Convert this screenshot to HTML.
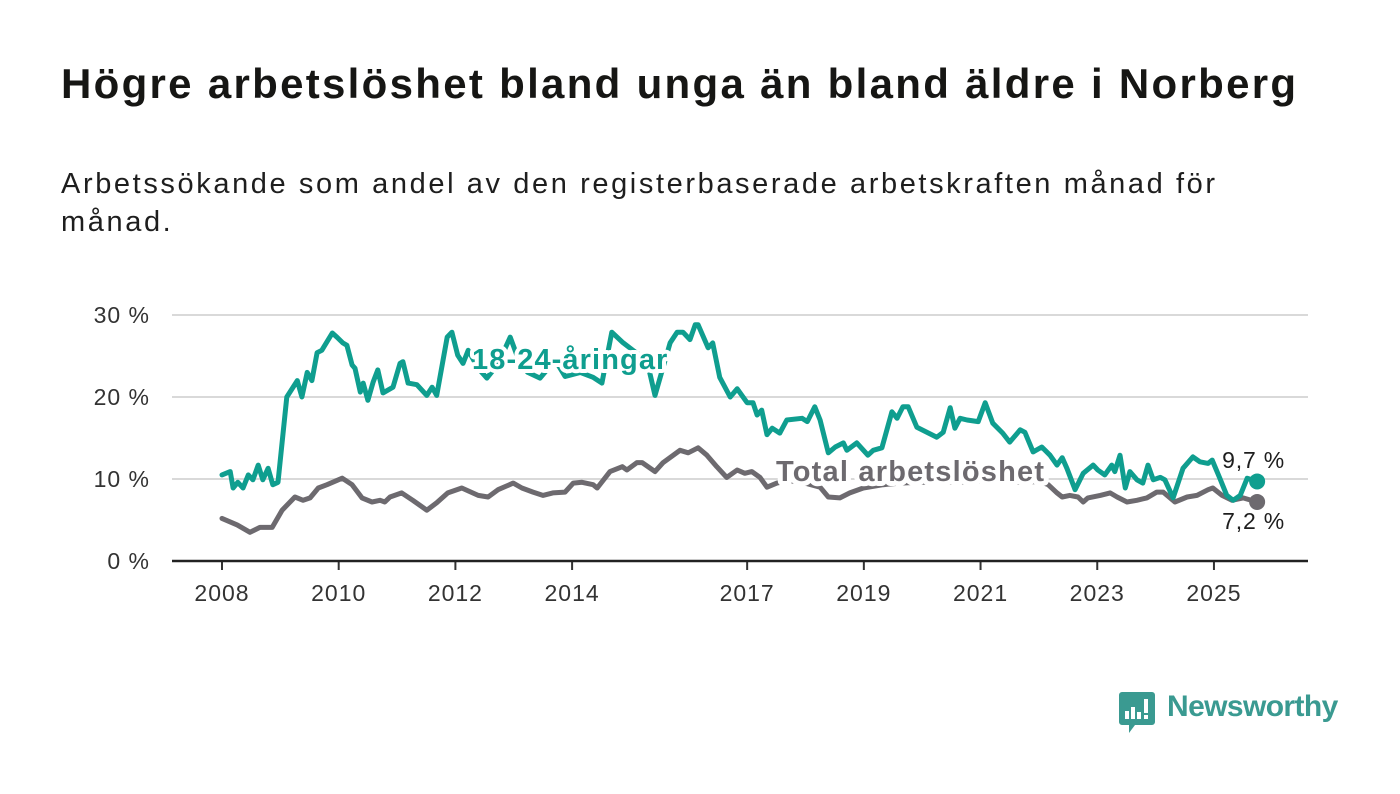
<!DOCTYPE html>
<html><head><meta charset="utf-8">
<style>
body{margin:0;background:#fff;width:1400px;height:794px;overflow:hidden;font-family:"Liberation Sans","DejaVu Sans",sans-serif;}
#title{position:absolute;left:61px;top:60px;font-size:42px;font-weight:bold;color:#161614;margin:0;letter-spacing:2.3px;white-space:nowrap}
#sub{position:absolute;left:61px;top:165px;font-size:29px;color:#1e1e1e;line-height:38px;width:1300px;margin:0;letter-spacing:2.6px}
svg{position:absolute;left:0;top:0}
</style></head><body>
<h1 id="title">Högre arbetslöshet bland unga än bland äldre i Norberg</h1>
<p id="sub">Arbetssökande som andel av den registerbaserade arbetskraften månad för<br>månad.</p>
<svg id="chart" width="1400" height="794"></svg>
<script>
const yTicks=[0,10,20,30];
const xTicks=[2008,2010,2012,2014,2017,2019,2021,2023,2025];
const youthDates=[2008.00,2008.14,2008.19,2008.27,2008.36,2008.45,2008.53,2008.62,2008.70,2008.79,2008.87,2008.96,2009.11,2009.29,2009.37,2009.46,2009.54,2009.63,2009.71,2009.89,2009.97,2010.07,2010.14,2010.23,2010.28,2010.37,2010.42,2010.50,2010.59,2010.67,2010.76,2010.93,2011.05,2011.10,2011.19,2011.34,2011.51,2011.60,2011.68,2011.86,2011.94,2012.04,2012.13,2012.22,2012.39,2012.54,2012.73,2012.94,2013.11,2013.24,2013.45,2013.71,2013.88,2014.14,2014.36,2014.51,2014.68,2014.86,2015.08,2015.28,2015.42,2015.68,2015.80,2015.90,2016.02,2016.11,2016.16,2016.33,2016.41,2016.53,2016.71,2016.83,2017.00,2017.10,2017.17,2017.25,2017.34,2017.43,2017.56,2017.68,2017.94,2018.03,2018.16,2018.25,2018.39,2018.51,2018.65,2018.71,2018.88,2019.07,2019.16,2019.31,2019.48,2019.57,2019.67,2019.76,2019.91,2020.25,2020.36,2020.48,2020.56,2020.65,2020.77,2020.96,2021.08,2021.21,2021.38,2021.50,2021.68,2021.76,2021.90,2022.05,2022.19,2022.31,2022.40,2022.48,2022.62,2022.76,2022.93,2023.01,2023.13,2023.25,2023.30,2023.39,2023.48,2023.56,2023.68,2023.78,2023.87,2023.96,2024.08,2024.16,2024.30,2024.47,2024.64,2024.76,2024.90,2024.97,2025.10,2025.22,2025.33,2025.45,2025.57,2025.74];
const youthValues=[10.5,10.9,8.9,9.6,8.9,10.5,9.9,11.7,9.9,11.3,9.3,9.6,20,22,20,23,22,25.4,25.7,27.8,27.3,26.6,26.3,23.9,23.5,20.6,21.7,19.6,21.8,23.3,20.5,21.2,24.1,24.3,21.7,21.5,20.2,21.2,20.2,27.3,27.9,25.1,24.1,25.7,23.5,22.3,24,27.3,24,23,22.3,24.5,22.5,23,22.4,21.7,27.9,26.7,25.5,24.5,20.2,26.6,27.9,27.9,27,28.8,28.8,26,26.6,22.4,20,21,19.3,19.3,17.8,18.4,15.4,16.2,15.6,17.2,17.4,17,18.8,17.2,13.2,13.9,14.4,13.5,14.4,12.9,13.5,13.8,18.2,17.4,18.8,18.8,16.3,15.1,15.7,18.7,16.2,17.4,17.2,17,19.3,16.8,15.6,14.5,16,15.7,13.3,13.9,12.9,11.7,12.6,11.3,8.7,10.7,11.7,11.1,10.5,11.7,10.9,12.9,8.9,10.9,9.9,9.5,11.7,9.9,10.2,9.9,7.7,11.3,12.7,12.1,11.9,12.3,10.1,8,7.4,8,10.1,9.7];
const totalDates=[2008.00,2008.26,2008.48,2008.65,2008.86,2009.03,2009.25,2009.39,2009.51,2009.65,2009.80,2010.06,2010.23,2010.40,2010.57,2010.71,2010.79,2010.88,2011.08,2011.27,2011.51,2011.68,2011.87,2012.11,2012.39,2012.56,2012.73,2012.99,2013.14,2013.33,2013.50,2013.67,2013.88,2014.02,2014.17,2014.36,2014.43,2014.65,2014.86,2014.94,2015.11,2015.20,2015.42,2015.56,2015.85,2015.99,2016.16,2016.31,2016.48,2016.65,2016.83,2016.96,2017.08,2017.22,2017.34,2017.51,2017.73,2017.99,2018.25,2018.39,2018.59,2018.76,2018.99,2019.33,2019.62,2019.96,2020.31,2020.65,2020.99,2021.33,2021.68,2022.02,2022.16,2022.31,2022.40,2022.53,2022.67,2022.76,2022.84,2023.05,2023.22,2023.34,2023.51,2023.68,2023.85,2024.02,2024.13,2024.33,2024.54,2024.71,2024.90,2024.98,2025.14,2025.31,2025.50,2025.74];
const totalValues=[5.2,4.4,3.5,4.1,4.1,6.2,7.8,7.4,7.7,8.9,9.3,10.1,9.3,7.7,7.2,7.4,7.2,7.8,8.3,7.4,6.2,7.1,8.3,8.9,8,7.8,8.7,9.5,8.9,8.4,8,8.3,8.4,9.5,9.6,9.3,8.9,10.9,11.5,11.1,12,12,10.9,12,13.5,13.2,13.8,12.9,11.5,10.2,11.1,10.7,10.9,10.2,9,9.5,9.8,9.5,9,7.8,7.7,8.3,8.9,9.3,9.5,9.6,9.6,9.6,9.8,9.8,9.6,9.7,9.3,8.3,7.8,8,7.8,7.2,7.7,8,8.3,7.8,7.2,7.4,7.7,8.4,8.4,7.2,7.8,8,8.7,8.9,8,7.4,7.7,7.2];
const NS='http://www.w3.org/2000/svg';
const svg=document.getElementById('chart');
const X0=172,X1=1308,Y0=561;
function xs(t){return 222+(t-2008)*58.35;}
function ys(v){return Y0-v*8.2;}
function mk(tag,attrs,parent){const e=document.createElementNS(NS,tag);for(const k in attrs)e.setAttribute(k,attrs[k]);(parent||svg).appendChild(e);return e;}
yTicks.forEach(v=>{
  if(v>0){const g=mk('line',{x1:X0,x2:X1,y1:ys(v),y2:ys(v),stroke:'#d9d9d9','stroke-width':2});
  
  }
  const t=mk('text',{x:150,y:ys(v)+8,'text-anchor':'end','font-size':23,fill:'#333','letter-spacing':1});
  t.textContent=v+' %';
  
  
});
xTicks.forEach(yr=>{
  const l=mk('line',{x1:xs(yr),x2:xs(yr),y1:Y0,y2:Y0+9,stroke:'#333','stroke-width':2});
  
  
  const t=mk('text',{x:xs(yr),y:601,'text-anchor':'middle','font-size':23,fill:'#333','letter-spacing':1});
  t.textContent=yr;
  
  
});
const ax=mk('line',{x1:X0,x2:X1,y1:Y0,y2:Y0,stroke:'#222','stroke-width':2.5});


function series(dates,vals,color,name){
  const d=dates.map((t,i)=>(i?'L':'M')+xs(t).toFixed(1)+','+ys(vals[i]).toFixed(1)).join('');
  const p=mk('path',{d:d,fill:'none',stroke:color,'stroke-width':5,'stroke-linejoin':'round','stroke-linecap':'round'});
  
  
  const n=dates.length-1;
  const c=mk('circle',{cx:xs(dates[n]),cy:ys(vals[n]),r:8,fill:color});
  
  
}
series(totalDates,totalValues,'#6d6a6f','total');
series(youthDates,youthValues,'#0f9e8f','youth');
function label(txt,x,y,color,size,weight,name,anchor,ls,sw){
  const t=mk('text',{x:x,y:y,fill:color,'font-size':size,'font-weight':weight,stroke:'#fff','stroke-width':sw,'paint-order':'stroke','stroke-linejoin':'round','text-anchor':anchor||'start','letter-spacing':ls});
  t.textContent=txt;
  
  
}
label('18-24-åringar',472,369,'#0f9e8f',29,'bold','youth-series-label','start',1.1,8);
label('Total arbetslöshet',776,481,'#6d6a6f',29,'bold','total-series-label','start',1.2,10);
const ly=youthValues[youthValues.length-1], lt=totalValues[totalValues.length-1];
label(String(ly).replace('.',',')+' %',1285,468,'#1e1e1e',23,'normal','youth-end-value','end',0.8,4);
label(String(lt).replace('.',',')+' %',1285,529,'#1e1e1e',23,'normal','total-end-value','end',0.8,4);
</script>
<div style="position:absolute;left:1119px;top:690px;height:44px;">
<svg width="36" height="44" style="position:absolute;left:0;top:2px">
<path d="M3 0H33a3 3 0 0 1 3 3V30a3 3 0 0 1-3 3H16L10 41V33H3a3 3 0 0 1-3-3V3a3 3 0 0 1 3-3Z" fill="#3a9a91"/>
<rect x="6" y="19" width="4" height="8" fill="#fff"/><rect x="12" y="15" width="4" height="12" fill="#fff"/><rect x="18" y="20" width="4" height="7" fill="#fff"/><rect x="25" y="7" width="4" height="14" fill="#fff"/><rect x="25" y="23" width="4" height="4" fill="#fff"/>
</svg>
<span style="position:absolute;left:48px;top:0;font-size:30px;color:#3a9a91;font-weight:bold;white-space:nowrap;letter-spacing:-0.6px">Newsworthy</span>
</div>
</body></html>
